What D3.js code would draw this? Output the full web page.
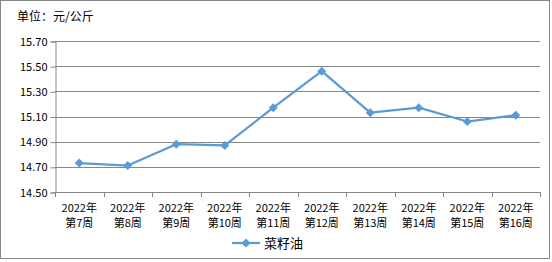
<!DOCTYPE html>
<html>
<head>
<meta charset="utf-8">
<script src="https://cdn.jsdelivr.net/npm/d3@7"></script>
<style>
  body { margin: 0; background: #fff; }
  text { font-family: "Noto Sans CJK SC", "DejaVu Sans", sans-serif; fill: #000; }
</style>
</head>
<body>
<svg id="chart"></svg>
<script>
const weeks = ["第7周", "第8周", "第9周", "第10周", "第11周", "第12周", "第13周", "第14周", "第15周", "第16周"];
const yearLabel = "2022年";
const prices = [14.73, 14.71, 14.88, 14.87, 15.17, 15.46, 15.13, 15.17, 15.06, 15.11];
const yTicks = [14.5, 14.7, 14.9, 15.1, 15.3, 15.5, 15.7];
const seriesName = "菜籽油";

const width = 552;
const height = 262;
const margin = { top: 41, right: 12, bottom: 70, left: 55 };

const svg = d3.select("#chart").attr("width", width).attr("height", height);

// outer frame
svg.append("rect")
  .attr("x", 0.5).attr("y", 0.5)
  .attr("width", 549).attr("height", 258)
  .attr("fill", "#fff")
  .attr("stroke", "#868686");

svg.append("text")
  .attr("x", 17).attr("y", 21)
  .style("font-size", "12px")
  .text("单位：元/公斤");

const x = d3.scaleBand()
  .domain(weeks)
  .range([margin.left, width - margin.right]);

const y = d3.scaleLinear()
  .domain([14.5, 15.7])
  .range([192, margin.top]);

// gridlines
svg.append("g")
  .selectAll("line")
  .data(yTicks.slice(1))
  .join("line")
  .attr("x1", margin.left)
  .attr("x2", width - margin.right)
  .attr("y1", (d) => Math.round(y(d)) + 0.5)
  .attr("y2", (d) => Math.round(y(d)) + 0.5)
  .attr("stroke", "#868686");

// y axis
const yAxis = svg.append("g")
  .attr("transform", `translate(${margin.left + 0.5},0.5)`)
  .call(d3.axisLeft(y).tickValues(yTicks).tickFormat(d3.format(".2f")).tickSize(5).tickPadding(3));
yAxis.select(".domain").attr("stroke", "#868686");
yAxis.selectAll(".tick line").attr("stroke", "#868686");
yAxis.selectAll(".tick text").style("font-size", "11px").style("font-family", "'Noto Sans CJK SC', sans-serif");

// x axis line and boundary ticks
const xg = svg.append("g");
xg.append("line")
  .attr("x1", margin.left).attr("x2", width - margin.right)
  .attr("y1", 192.5).attr("y2", 192.5)
  .attr("stroke", "#868686");
xg.selectAll("line.tk")
  .data(weeks.concat(["end"]))
  .join("line")
  .attr("class", "tk")
  .attr("x1", (d, i) => Math.round(margin.left + i * x.bandwidth()) + 0.5)
  .attr("x2", (d, i) => Math.round(margin.left + i * x.bandwidth()) + 0.5)
  .attr("y1", 192).attr("y2", 197)
  .attr("stroke", "#868686");

const lbl = xg.selectAll("text")
  .data(weeks)
  .join("text")
  .attr("text-anchor", "middle")
  .style("font-size", "11px");
lbl.append("tspan")
  .attr("x", (d) => x(d) + x.bandwidth() / 2)
  .attr("y", 212)
  .text(yearLabel);
lbl.append("tspan")
  .attr("x", (d) => x(d) + x.bandwidth() / 2)
  .attr("y", 227)
  .text((d) => d);

// line
const line = d3.line()
  .x((d, i) => x(weeks[i]) + x.bandwidth() / 2)
  .y((d) => y(d));

svg.append("path")
  .datum(prices)
  .attr("d", line)
  .attr("fill", "none")
  .attr("stroke", "#5B9BD5")
  .attr("stroke-width", 2.25)
  .attr("stroke-linejoin", "round");

// square diamond marker like excel
const diamond = "M0,-4.5L4.5,0L0,4.5L-4.5,0Z";
svg.append("g")
  .selectAll("path")
  .data(prices)
  .join("path")
  .attr("transform", (d, i) => `translate(${x(weeks[i]) + x.bandwidth() / 2},${y(d)})`)
  .attr("d", diamond)
  .attr("fill", "#5B9BD5");

// legend
const lg = svg.append("g").attr("transform", "translate(232,243)");
lg.append("line")
  .attr("x1", 0).attr("x2", 28)
  .attr("stroke", "#5B9BD5").attr("stroke-width", 2.25);
lg.append("path")
  .attr("transform", "translate(14,0)")
  .attr("d", diamond)
  .attr("fill", "#5B9BD5");
lg.append("text")
  .attr("x", 32).attr("y", 5)
  .style("font-size", "13px")
  .text(seriesName);
</script>
</body>
</html>
